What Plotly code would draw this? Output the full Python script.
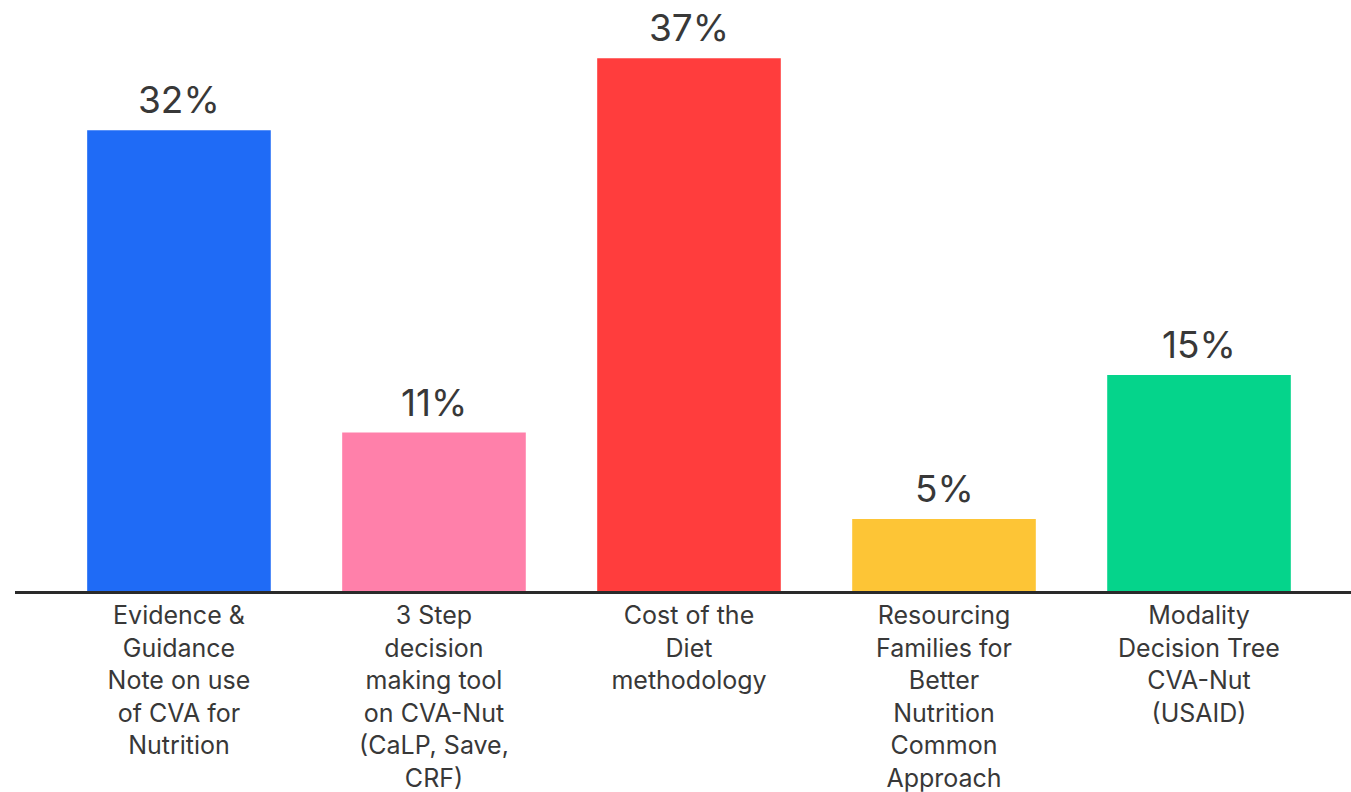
import plotly.graph_objects as go

categories = [
    "Evidence &<br>Guidance<br>Note on use<br>of CVA for<br>Nutrition",
    "3 Step<br>decision<br>making tool<br>on CVA-Nut<br>(CaLP, Save,<br>CRF)",
    "Cost of the<br>Diet<br>methodology",
    "Resourcing<br>Families for<br>Better<br>Nutrition<br>Common<br>Approach",
    "Modality<br>Decision Tree<br>CVA-Nut<br>(USAID)",
]
values = [32, 11, 37, 5, 15]
labels = ["32%", "11%", "37%", "5%", "15%"]
colors = ["#1F6BF6", "#FF80AA", "#FF3D3D", "#FDC536", "#05D48B"]

FONT = "Inter"
TXT = "#383838"

fig = go.Figure()
fig.add_trace(go.Bar(
    x=list(range(len(categories))),
    y=values,
    marker=dict(color=colors, line=dict(width=0)),
    width=0.72,
    hoverinfo="skip",
))

for i, (v, lab) in enumerate(zip(values, labels)):
    fig.add_annotation(
        x=i, y=v, text=lab, showarrow=False,
        yanchor="bottom", yshift=6,
        font=dict(family=FONT, size=37, color=TXT),
    )

fig.update_layout(
    width=1351, height=792,
    paper_bgcolor="white", plot_bgcolor="white",
    margin=dict(l=15, r=0, t=20, b=201),
    showlegend=False,
    font=dict(family=FONT, color=TXT),
    xaxis=dict(
        range=[-0.643, 4.596],
        tickmode="array",
        tickvals=list(range(len(categories))),
        ticktext=categories,
        tickfont=dict(family=FONT, size=25, color=TXT),
        showline=True, linecolor="#2a2a2a", linewidth=3,
        showgrid=False, zeroline=False, ticks="",
        ticklabelstandoff=0,
        automargin=False,
    ),
    yaxis=dict(
        range=[0, 39.65],
        visible=False, showgrid=False, zeroline=False,
        automargin=False,
    ),
)

fig.write_html(
    "out.html",
    config={"displayModeBar": False, "staticPlot": True},
    post_script="document.body.style.margin='0';document.body.style.overflow='hidden';",
)
